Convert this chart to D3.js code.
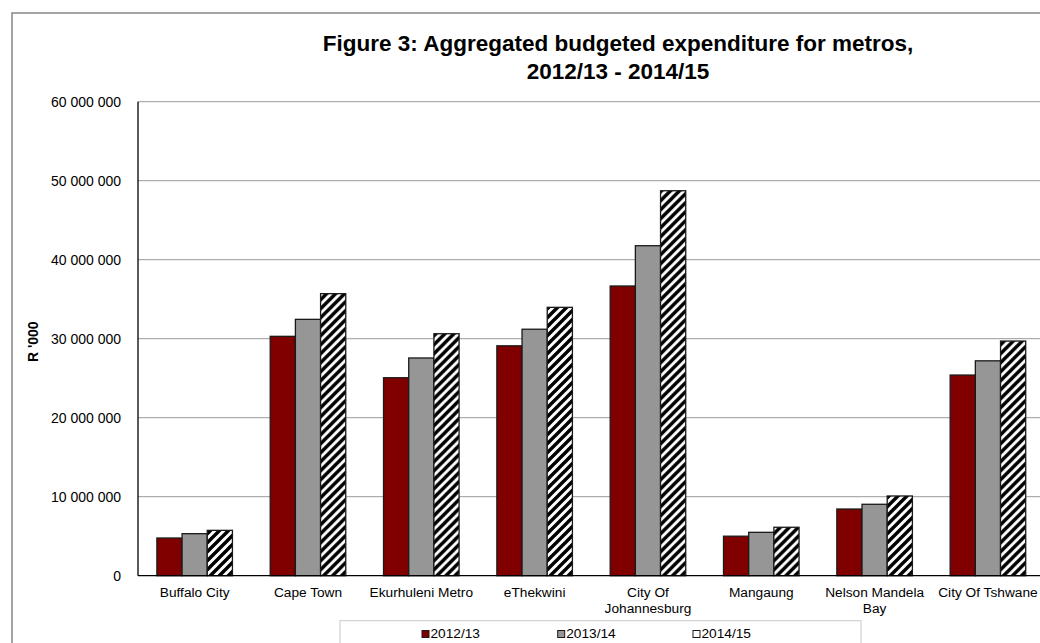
<!DOCTYPE html>
<html>
<head>
<meta charset="utf-8">
<script src="https://cdn.jsdelivr.net/npm/d3@7"></script>
<style>
  body { margin: 0; background: #fff; }
  svg { display: block; font-family: "Liberation Sans", Arial, sans-serif; }
</style>
</head>
<body>
<svg id="chart" width="1040" height="643"></svg>
<script>
// metros and budget values (R '000)
const metros = ["Buffalo City", "Cape Town", "Ekurhuleni Metro", "eThekwini",
  "City Of Johannesburg", "Mangaung", "Nelson Mandela Bay", "City Of Tshwane"];
const metroLines = [["Buffalo City"], ["Cape Town"], ["Ekurhuleni Metro"], ["eThekwini"],
  ["City Of", "Johannesburg"], ["Mangaung"], ["Nelson Mandela", "Bay"], ["City Of Tshwane"]];
const years = ["2012/13", "2013/14", "2014/15"];
const y2012 = [4770000, 30300000, 25060000, 29100000, 36670000, 5000000, 8440000, 25400000];
const y2013 = [5320000, 32450000, 27560000, 31200000, 41770000, 5490000, 9040000, 27200000];
const y2014 = [5740000, 35700000, 30630000, 33970000, 48730000, 6130000, 10090000, 29700000];
const yTicks = [0, 10000000, 20000000, 30000000, 40000000, 50000000, 60000000];

const series = [y2012, y2013, y2014];
const fills = ["#800000", "#969696", "url(#hatch)"];

const svg = d3.select("#chart");
const plot = { left: 138, top: 101.7, right: 1044.6, bottom: 575.7 };

// hatch pattern for 2014/15
const defs = svg.append("defs");
const pat = defs.append("pattern")
  .attr("id", "hatch")
  .attr("patternUnits", "userSpaceOnUse")
  .attr("width", 9).attr("height", 9);
pat.append("rect").attr("width", 9).attr("height", 9).attr("fill", "#fff");
pat.append("path")
  .attr("d", "M-2.25,2.25 L2.25,-2.25 M0,9 L9,0 M6.75,11.25 L11.25,6.75")
  .attr("stroke", "#000").attr("stroke-width", 3.4);

// outer chart border
svg.append("rect")
  .attr("x", 12).attr("y", 13).attr("width", 1100).attr("height", 700)
  .attr("fill", "none").attr("stroke", "#868686").attr("stroke-width", 1.5);

const x0 = d3.scaleBand().domain(metros).range([plot.left, plot.right]);
const x1 = d3.scaleBand().domain(years).range([0, x0.bandwidth()])
  .paddingInner(0).paddingOuter(0.75);
const y = d3.scaleLinear().domain([0, 60000000]).range([plot.bottom, plot.top]);

// gridlines
svg.append("g").selectAll("line")
  .data(yTicks.filter(d => d > 0))
  .join("line")
  .attr("x1", plot.left).attr("x2", plot.right)
  .attr("y1", d => y(d)).attr("y2", d => y(d))
  .attr("stroke", "#9a9a9a").attr("stroke-width", 1);

// y tick labels
const fmt = d => d3.format(",")(d).replace(/,/g, " ");
svg.append("g").selectAll("text")
  .data(yTicks)
  .join("text")
  .attr("x", plot.left - 17)
  .attr("y", d => y(d) + 5)
  .attr("text-anchor", "end")
  .attr("font-size", 14)
  .attr("fill", "#000")
  .text(fmt);

// bars
const groups = svg.append("g").selectAll("g")
  .data(metros)
  .join("g")
  .attr("transform", d => `translate(${x0(d)},0)`);

groups.selectAll("rect")
  .data((d, i) => years.map((yr, j) => ({ yr, j, v: series[j][i] })))
  .join("rect")
  .attr("x", d => x1(d.yr))
  .attr("width", x1.bandwidth())
  .attr("y", d => y(d.v))
  .attr("height", d => y(0) - y(d.v))
  .attr("fill", d => fills[d.j])
  .attr("stroke", "#1a1a1a")
  .attr("stroke-width", 1.3);

// axes lines
svg.append("line")
  .attr("x1", plot.left).attr("x2", plot.left)
  .attr("y1", plot.top).attr("y2", plot.bottom)
  .attr("stroke", "#000").attr("stroke-width", 1.3);
svg.append("line")
  .attr("x1", plot.left).attr("x2", plot.right)
  .attr("y1", plot.bottom).attr("y2", plot.bottom)
  .attr("stroke", "#000").attr("stroke-width", 1.3);

// category labels
const cat = svg.append("g").selectAll("text")
  .data(metros)
  .join("text")
  .attr("text-anchor", "middle")
  .attr("font-size", 13.7)
  .attr("fill", "#000")
  .attr("transform", d => `translate(${x0(d) + x0.bandwidth() / 2},596.5)`);
cat.selectAll("tspan")
  .data((d, i) => metroLines[i])
  .join("tspan")
  .attr("x", 0)
  .attr("y", (d, i) => i * 16.5)
  .text(d => d);

// title
svg.append("text")
  .attr("x", 618).attr("y", 51)
  .attr("text-anchor", "middle")
  .attr("font-size", 22.5).attr("font-weight", "bold")
  .text("Figure 3: Aggregated budgeted expenditure for metros,");
svg.append("text")
  .attr("x", 618).attr("y", 79)
  .attr("text-anchor", "middle")
  .attr("font-size", 22.5).attr("font-weight", "bold")
  .text("2012/13 - 2014/15");

// y axis title
svg.append("text")
  .attr("transform", "translate(38,341.7) rotate(-90)")
  .attr("text-anchor", "middle")
  .attr("font-size", 14).attr("font-weight", "bold")
  .text("R '000");

// legend
svg.append("rect")
  .attr("x", 340).attr("y", 620.7).attr("width", 521).attr("height", 60)
  .attr("fill", "#fff").attr("stroke", "#c8c8c8").attr("stroke-width", 1);
const legendX = [422, 557.7, 693];
const legendFill = ["#800000", "#969696", "#fff"];
const leg = svg.append("g").selectAll("g")
  .data(years)
  .join("g")
  .attr("transform", (d, i) => `translate(${legendX[i]},0)`);
leg.append("rect")
  .attr("x", 0).attr("y", 630.5).attr("width", 7).attr("height", 7)
  .attr("fill", (d, i) => legendFill[i])
  .attr("stroke", "#1a1a1a").attr("stroke-width", 1);
leg.append("text")
  .attr("x", 8.5).attr("y", 637.5)
  .attr("font-size", 13.7)
  .text(d => d);
</script>
</body>
</html>
